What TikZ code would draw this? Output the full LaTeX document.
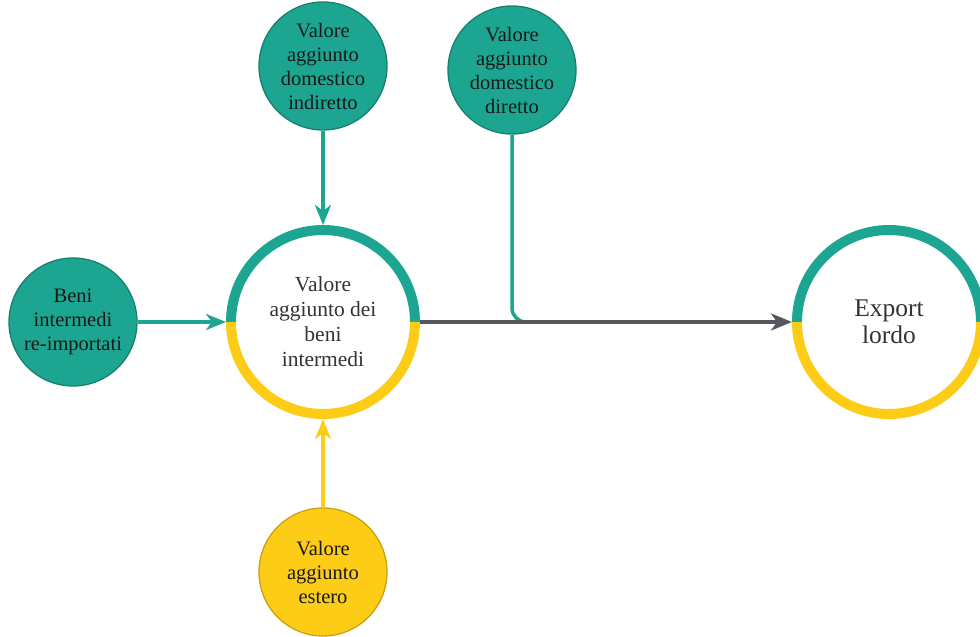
\documentclass[tikz,border=0pt]{standalone}
\usepackage{fontspec}
\setmainfont{Liberation Serif}
\usetikzlibrary{arrows.meta}
\definecolor{tealc}{RGB}{28,166,145}
\definecolor{tealb}{RGB}{22,128,110}
\definecolor{yelc}{RGB}{252,204,22}
\definecolor{yelb}{RGB}{205,160,15}
\definecolor{grayarr}{RGB}{85,89,94}
\tikzset{
  small/.style={circle, minimum size=128pt, inner sep=0pt, align=center, line width=1.3pt,
    font=\fontsize{20.5}{24}\selectfont, text=black!90},
  tealnode/.style={small, fill=tealc, draw=tealb},
  yelnode/.style={small, fill=yelc, draw=yelb},
  bigc/.style={circle, minimum size=194pt, inner sep=0pt, outer sep=0pt, align=center, text=black!80},
  tarrow/.style={draw=tealc, line width=3.5pt, -{Stealth[length=20pt,width=16pt,inset=6pt]}},
  yarrow/.style={draw=yelc, line width=3.5pt, -{Stealth[length=20pt,width=16pt,inset=6pt]}},
  garrow/.style={draw=grayarr, line width=4pt, -{Stealth[length=21pt,width=17pt,inset=6pt]}},
}
\begin{document}
\begin{tikzpicture}[x=1pt,y=1pt]
\useasboundingbox (0,0) rectangle (980,637);
\node[tealnode] (ind) at (323,571) {Valore\\aggiunto\\domestico\\indiretto};
\node[tealnode] (dir) at (512,567) {Valore\\aggiunto\\domestico\\diretto};
\node[tealnode] (beni) at (73,315) {Beni\\intermedi\\re-importati};
\node[yelnode] (est) at (323,65) {Valore\\aggiunto\\estero};
\node[bigc, font=\fontsize{21.5}{25}\selectfont] (vab) at (323,315) {Valore\\aggiunto dei\\beni\\intermedi};
\node[bigc, font=\fontsize{25.5}{27}\selectfont] (exp) at (889,315) {Export\\lordo};
% rings
\draw[tealc, line width=10pt] ([xshift=5pt]vab.west) arc (180:0:92);
\draw[yelc, line width=10pt] ([xshift=5pt]vab.west) arc (180:360:92);
\draw[tealc, line width=10pt] ([xshift=5pt]exp.west) arc (180:0:92);
\draw[yelc, line width=10pt] ([xshift=5pt]exp.west) arc (180:360:92);
% connectors
\draw[tarrow] (ind.south) -- (vab.north);
\draw[tarrow] (beni.east) -- (vab.west);
\draw[yarrow] (est.north) -- (vab.south);
\coordinate (j) at (530,315);
\draw[tealc, line width=3.5pt, rounded corners=14pt] (dir.south) |- (j);
\draw[garrow] (vab.east) -- (exp.west);
\end{tikzpicture}
\end{document}
